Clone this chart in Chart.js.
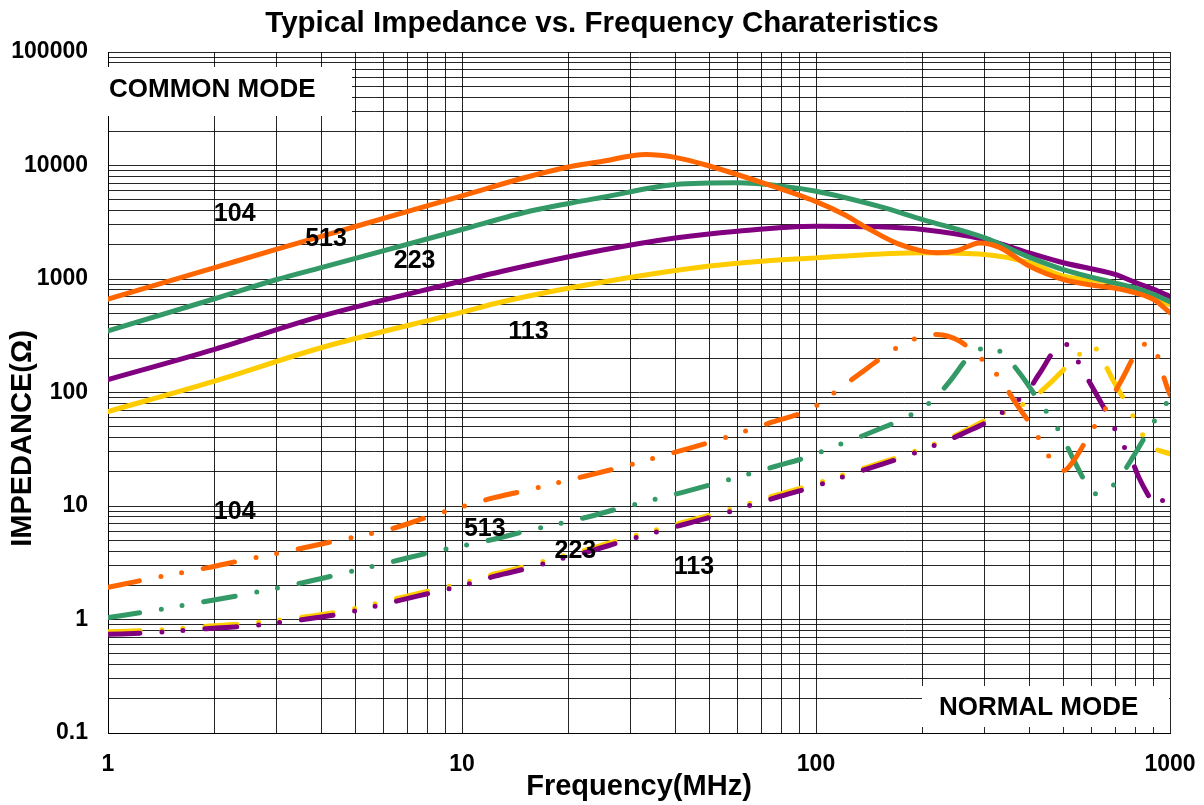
<!DOCTYPE html>
<html>
<head>
<meta charset="utf-8">
<title>Typical Impedance vs. Frequency Charateristics</title>
<script src="https://cdn.jsdelivr.net/npm/chart.js@4.4.0/dist/chart.umd.min.js"></script>
<style>
    html, body { margin: 0; padding: 0; background: #fff; }
    #impedanceChart { display: block; }
</style>
</head>
<body>
<canvas id="impedanceChart" width="1204" height="805"></canvas>
<script>
// decade labels on the axes
const xTickLabels = [1, 10, 100, 1000];
const yTickLabels = [0.1, 1, 10, 100, 1000, 10000, 100000];

// common mode impedance, [MHz, ohm]
const cm104 = [[1, 665], [2, 1260], [3, 1830], [5, 2900], [10, 5400], [15, 7800], [20, 9700], [25, 10900],
    [33, 12500], [40, 11800], [50, 9900], [70, 7100], [100, 4800], [120, 3700], [140, 2800], [170, 2050],
    [200, 1760], [220, 1700], [250, 1780], [290, 2080], [330, 1900], [400, 1300], [500, 990], [600, 885],
    [700, 830], [800, 755], [900, 660], [1000, 505]];
const cm513 = [[1, 350], [2, 670], [3, 990], [4, 1260], [5, 1520], [10, 2730], [15, 3850], [20, 4630],
    [25, 5250], [40, 6800], [60, 7030], [80, 6580], [100, 5930], [150, 4380], [200, 3340], [300, 2300],
    [400, 1560], [500, 1210], [700, 920], [800, 830], [900, 730], [1000, 630]];
const cm223 = [[1, 130], [2, 240], [4, 470], [10, 960], [13, 1170], [25, 1800], [40, 2300], [60, 2640],
    [100, 2920], [150, 2880], [200, 2730], [300, 2230], [400, 1700], [500, 1390], [700, 1096], [800, 930],
    [900, 810], [1000, 700]];
const cm113 = [[1, 68], [2, 126], [4, 248], [10, 510], [13, 630], [25, 940], [50, 1300], [70, 1435],
    [100, 1535], [200, 1700], [300, 1645], [400, 1390], [500, 1060], [700, 920], [800, 790], [900, 660],
    [1000, 596]];

// normal mode impedance, [MHz, ohm]
const nm104 = [[1, 1.92], [1.28, 2.25], [1.9, 2.85], [2.4, 3.33], [3.5, 4.22], [4.44, 4.96], [6.55, 6.5],
    [8.25, 8.25], [10.6, 10.4], [12, 11.6], [15.3, 13.8], [22.2, 18.3], [28.3, 22.1], [41, 30.4], [52.5, 38],
    [75, 54.7], [96, 70.8], [106, 86.7], [118, 111], [132, 144], [159, 219], [178, 270], [203, 318],
    [220, 325], [255, 283], [282, 219], [311, 167], [338, 121], [362, 85.5], [414, 46.3], [441, 32.1],
    [475, 22.7], [500, 20.5], [529, 24], [600, 45.6], [643, 64], [687, 91.6], [733, 132], [824, 253],
    [860, 268], [908, 243], [944, 162], [983, 110], [1000, 96]];
const nm513 = [[1, 1.04], [1.28, 1.17], [1.9, 1.45], [2.4, 1.65], [3.53, 2.1], [4.47, 2.49], [6.55, 3.31],
    [8.3, 3.95], [10.8, 4.67], [12.2, 5.07], [15.4, 6.08], [22.5, 7.96], [28.7, 9.77], [42, 13.2], [53, 16.1],
    [77, 22.4], [98, 28], [110, 32.6], [125, 37.8], [140, 43.3], [176, 58.6], [197, 70.8], [219, 91.6],
    [239, 126], [275, 219], [300, 248], [312, 253], [348, 197], [380, 142], [433, 78.4], [467, 55.9],
    [500, 39.1], [530, 26.9], [594, 14], [612, 12.8], [660, 13.4], [725, 18.3], [780, 26], [880, 48.9],
    [943, 69.4], [1000, 88]];
const nm223 = [[1, 0.74], [1.3, 0.763], [1.9, 0.83], [2.44, 0.873], [3.57, 1.0], [4.54, 1.12], [6.7, 1.48],
    [8.6, 1.78], [9.7, 1.94], [11.1, 2.17], [12.4, 2.41], [15.9, 2.91], [18, 3.27], [23, 4.0], [29, 4.97],
    [42.3, 6.87], [53.5, 8.41], [78, 12], [98.5, 14.8], [111, 16.8], [126, 19.2], [142.6, 21.7], [180, 27.5],
    [203, 31.9], [231, 36.8], [260, 43.5], [323, 61.1], [356, 77.3], [395, 101], [426, 144], [487, 261],
    [505, 268], [534, 219], [571, 151], [610, 105], [684, 54.8], [724, 37.8], [777, 26], [815, 18.1],
    [870, 12.3], [910, 10], [935, 10.4], [1000, 14.2]];
const nm113 = [[1, 0.78], [1.3, 0.8], [1.9, 0.87], [2.44, 0.92], [3.57, 1.05], [4.54, 1.18], [6.7, 1.56],
    [8.6, 1.87], [9.7, 2.04], [11.1, 2.28], [12.4, 2.53], [15.9, 3.06], [18, 3.44], [23, 4.2], [29, 5.2],
    [42.3, 7.2], [53.5, 8.8], [78, 12.6], [98.5, 15.5], [111, 17.5], [126, 19.9], [142.6, 22.5], [180, 28.5],
    [203, 33], [231, 38], [260, 45], [323, 63], [364, 71.8], [408, 88.5], [452, 116], [533, 193], [591, 253],
    [603, 258], [647, 189], [687, 132], [774, 68.4], [817, 47.9], [888, 33.6], [1000, 28.8]];

// part numbers written on the plot, and where they sit [MHz, ohm]
const partNumbers = ['104', '513', '223', '113'];
const cmLabelAt = [[2.28, 3740], [4.13, 2250], [7.35, 1440], [15.4, 338]];
const nmLabelAt = [[2.28, 8.77], [11.6, 6.21], [20.9, 4.01], [45.2, 2.9]];

const colors = { p104: '#FF6600', p513: '#339966', p223: '#800080', p113: '#FFCC00' };
const FONT = "'Liberation Sans', Arial, sans-serif";

// grid lines: 1..9 of every decade
function gridValues(decades) {
    let values = [];
    for (let i = 0; i < decades.length - 1; i++) {
        for (let m = 1; m < 10; m++) {
            values.push(Number((decades[i] * m).toPrecision(6)));
        }
    }
    values.push(decades[decades.length - 1]);
    return values;
}

function decadeLabel(value) {
    const e = Math.log10(value);
    return Math.abs(e - Math.round(e)) < 1e-6 ? String(value) : '';
}

function toXY(pairs) {
    return pairs.map(p => ({ x: p[0], y: p[1] }));
}

function solidLine(pairs, color) {
    return {
        data: toXY(pairs),
        borderColor: color,
        borderWidth: 5,
        pointRadius: 0,
        cubicInterpolationMode: 'monotone',
        borderCapStyle: 'round',
        borderJoinStyle: 'round',
        fill: false
    };
}

function dashDotLine(pairs, color) {
    let ds = solidLine(pairs, color);
    ds.borderDash = [32, 22, 0, 21, 0, 22];
    return ds;
}

const labelsPlugin = {
    id: 'modeLabels',
    beforeDatasetsDraw(chart) {
        const { ctx, chartArea } = chart;
        ctx.save();
        ctx.fillStyle = '#fff';
        ctx.fillRect(chartArea.left - 1, chartArea.top + 15, 245, 49);
        ctx.fillRect(chartArea.right - 248, chartArea.bottom - 47, 247, 41);
        ctx.fillStyle = '#000';
        ctx.font = 'bold 26px ' + FONT;
        ctx.textBaseline = 'middle';
        ctx.textAlign = 'left';
        ctx.fillText('COMMON MODE', chartArea.left + 1, chartArea.top + 38);
        ctx.fillText('NORMAL MODE', chartArea.right - 231, chartArea.bottom - 25);
        ctx.restore();
    },
    afterDatasetsDraw(chart) {
        const { ctx, chartArea, scales } = chart;
        ctx.save();
        ctx.fillStyle = '#000';
        ctx.font = 'bold 25px ' + FONT;
        ctx.textAlign = 'center';
        ctx.textBaseline = 'middle';
        partNumbers.forEach((txt, i) => {
            ctx.fillText(txt, scales.x.getPixelForValue(cmLabelAt[i][0]), scales.y.getPixelForValue(cmLabelAt[i][1]));
            ctx.fillText(txt, scales.x.getPixelForValue(nmLabelAt[i][0]), scales.y.getPixelForValue(nmLabelAt[i][1]));
        });

        // y axis title, sits a bit below the middle of the axis
        ctx.font = 'bold 29px ' + FONT;
        ctx.translate(23, (chartArea.top + chartArea.bottom) / 2 + 46);
        ctx.rotate(-Math.PI / 2);
        ctx.fillText('IMPEDANCE(Ω)', 0, 0);
        ctx.restore();
    }
};

Chart.defaults.font.family = FONT;
Chart.defaults.color = '#000';

const gridColor = 'rgba(0, 0, 0, 0.85)';

new Chart(document.getElementById('impedanceChart'), {
    type: 'line',
    data: {
        datasets: [
            solidLine(cm104, colors.p104),
            solidLine(cm513, colors.p513),
            solidLine(cm223, colors.p223),
            solidLine(cm113, colors.p113),
            dashDotLine(nm104, colors.p104),
            dashDotLine(nm513, colors.p513),
            dashDotLine(nm223, colors.p223),
            dashDotLine(nm113, colors.p113)
        ]
    },
    options: {
        responsive: false,
        animation: false,
        devicePixelRatio: 1,
        layout: { padding: 0 },
        plugins: {
            legend: { display: false },
            tooltip: { enabled: false },
            title: {
                display: true,
                text: 'Typical Impedance vs. Frequency Charateristics',
                color: '#000',
                font: { size: 29.5, weight: 'bold' },
                padding: { top: 6, bottom: 10.6 }
            }
        },
        scales: {
            x: {
                type: 'logarithmic',
                min: 1,
                max: 1000,
                afterBuildTicks: s => { s.ticks = gridValues(xTickLabels).map(v => ({ value: v })); },
                afterFit: s => {
                    s.height = 72;
                    s.paddingLeft = 0;
                    s.paddingRight = 34;
                },
                grid: { color: gridColor, lineWidth: 1, drawTicks: false },
                border: { color: '#000', width: 1 },
                ticks: {
                    autoSkip: false,
                    maxRotation: 0,
                    padding: 18,
                    color: '#000',
                    font: { size: 23, weight: 'bold' },
                    callback: decadeLabel
                },
                title: {
                    display: true,
                    text: 'Frequency(MHz)',
                    color: '#000',
                    font: { size: 29, weight: 'bold' },
                    padding: { top: 0, bottom: 1 }
                }
            },
            y: {
                type: 'logarithmic',
                min: 0.1,
                max: 100000,
                afterBuildTicks: s => { s.ticks = gridValues(yTickLabels).map(v => ({ value: v })); },
                afterFit: s => {
                    s.width = 108;
                    s.paddingTop = 0;
                    s.paddingBottom = 0;
                },
                grid: { color: gridColor, lineWidth: 1, drawTicks: false },
                border: { color: '#000', width: 1 },
                ticks: {
                    autoSkip: false,
                    padding: 20,
                    color: '#000',
                    font: { size: 23, weight: 'bold' },
                    callback: decadeLabel
                }
            }
        }
    },
    plugins: [labelsPlugin]
});
</script>
</body>
</html>
